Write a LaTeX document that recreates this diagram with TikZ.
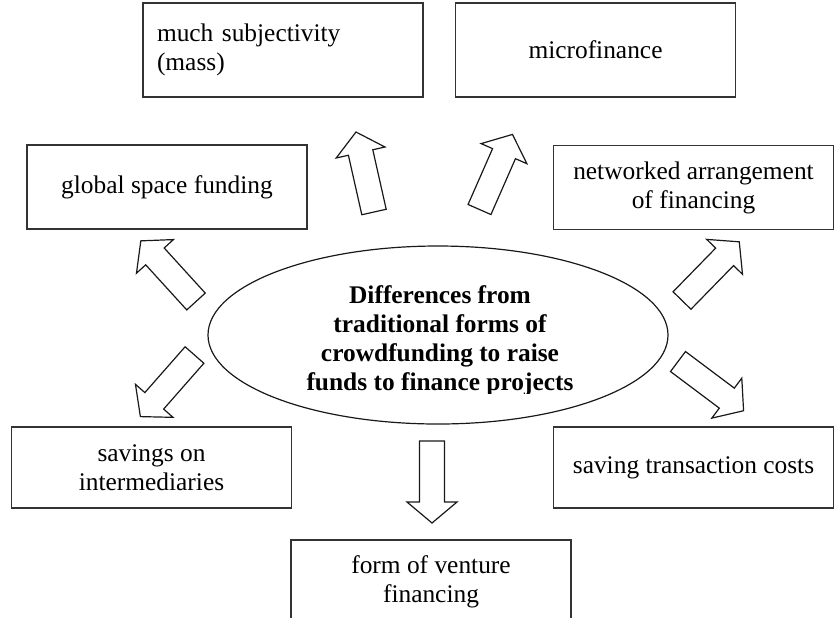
\documentclass[tikz,border=0pt]{standalone}
\usepackage{fontspec}
\setmainfont{Liberation Serif}
\usetikzlibrary{shapes.geometric}
\newcommand{\boxfont}{\fontsize{12.7pt}{14.5pt}\selectfont}
\newcommand{\linew}{0.8pt}
\tikzset{
  box/.style={draw=black!80, line width=\linew, inner sep=0pt, minimum width=140pt, align=center, font=\boxfont},
  blockarrow/.style={draw=black!90, line width=0.6pt, fill=white, line join=miter},
}

\begin{document}
\begin{tikzpicture}[x=0.5pt, y=-0.5pt]
\useasboundingbox (0,0) rectangle (834,617);
\clip (0,0) rectangle (834,617);
% boxes round the centre
\node[box, minimum height=47pt, text width=126pt, align=left, inner xsep=7pt] (mass) at (283,50) {much subjectivity\\(mass)};
\node[box, minimum height=47pt] (micro) at (595.5,50) {microfinance};
\node[box, minimum height=42pt] (global) at (167,187) {global space funding};
\node[box, minimum height=42pt] (network) at (693.5,187.5) {networked arrangement\\of financing};
\node[box, minimum height=40.5pt] (savings) at (151.5,467.5) {savings on\\intermediaries};
\node[box, minimum height=40.5pt] (costs) at (693.5,467.5) {saving transaction costs};
\node[box, minimum height=42pt] (venture) at (431,582) {form of venture\\financing};
% centre
\node[ellipse, draw=black!90, line width=0.6pt, minimum width=230pt, minimum height=89pt, inner sep=0pt] (core) at (438,335) {};
\begin{scope}
    \clip (200,240) rectangle (680,393);
    \node[font=\bfseries\boxfont, align=center] (coretext) at (440,341) {Differences from\\traditional forms of\\crowdfunding to raise\\funds to finance projects};
\end{scope}
% block arrows
\foreach \x/\y/\a in {374/212/102.7, 479.5/209.5/66.3, 196/301.5/132.3, 682/300.5/45.7, 194.5/355/228.7, 678/361.5/-36.9, 432/441/-90} {
    \draw[blockarrow, shift={(\x,\y)}, rotate=\a] (0,-12.5) -- (61,-12.5) -- (61,-25) -- (82,0) -- (61,25) -- (61,12.5) -- (0,12.5) -- cycle;
}
\end{tikzpicture}
\end{document}
